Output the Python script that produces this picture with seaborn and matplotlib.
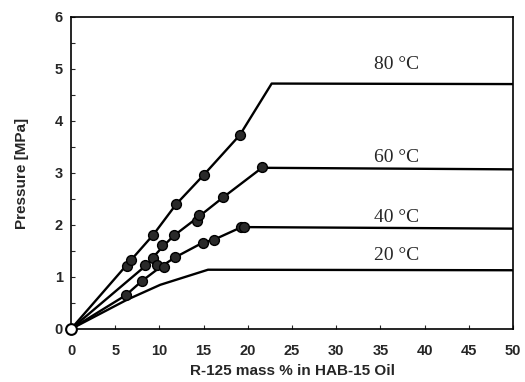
import matplotlib
matplotlib.use("Agg")
import matplotlib.pyplot as plt
import seaborn as sns
import pandas as pd
from matplotlib.ticker import MultipleLocator

# ---- data ----
temps = ["80 °C", "60 °C", "40 °C", "20 °C"]

pts80_x = [6.3, 6.8, 9.3, 11.9, 15.0, 19.1]
pts80_y = [1.22, 1.33, 1.81, 2.40, 2.96, 3.73]
pts60_x = [8.4, 9.3, 10.3, 11.6, 14.2, 14.5, 17.2, 21.6]
pts60_y = [1.23, 1.36, 1.61, 1.80, 2.08, 2.20, 2.53, 3.11]
pts40_x = [6.2, 8.0, 9.7, 10.5, 11.8, 14.9, 16.2, 19.2, 19.6]
pts40_y = [0.65, 0.92, 1.23, 1.19, 1.38, 1.66, 1.71, 1.97, 1.97]
origin_x = [0.0]
origin_y = [0.0]

line80_x = [0, 6.5, 9.3, 11.9, 15.0, 19.1, 22.7, 50]
line80_y = [0, 1.27, 1.81, 2.40, 2.96, 3.73, 4.72, 4.71]
line60_x = [0, 8.4, 10.3, 11.6, 14.3, 17.2, 21.6, 50]
line60_y = [0, 1.21, 1.57, 1.79, 2.14, 2.53, 3.10, 3.07]
line40_x = [0, 6.2, 8.0, 10.1, 11.8, 14.9, 16.2, 19.3, 50]
line40_y = [0, 0.65, 0.92, 1.19, 1.38, 1.66, 1.72, 1.96, 1.93]
line20_x = [0, 6.3, 10.1, 15.5, 50]
line20_y = [0, 0.56, 0.85, 1.14, 1.13]

label_x = [36.8, 36.8, 36.8, 36.8]
label_y = [5.08, 3.29, 2.15, 1.42]

xticks = [0, 5, 10, 15, 20, 25, 30, 35, 40, 45, 50]
yticks = [0, 1, 2, 3, 4, 5, 6]

sns.set_theme(style="ticks")
plt.rcParams["font.family"] = ["Liberation Sans", "DejaVu Sans"]

fig = plt.figure(figsize=(5.25, 3.82), dpi=100)
ax = fig.add_axes([71/525, 1-329/382, (513-71)/525, (329-17)/382])

for lx, ly in [(line80_x, line80_y), (line60_x, line60_y),
               (line40_x, line40_y), (line20_x, line20_y)]:
    df = pd.DataFrame({"x": lx, "y": ly})
    sns.lineplot(data=df, x="x", y="y", sort=False, color="black",
                 lw=1.7, ax=ax, estimator=None)

pts = pd.DataFrame({"x": pts80_x + pts60_x + pts40_x,
                    "y": pts80_y + pts60_y + pts40_y})
sns.scatterplot(data=pts, x="x", y="y", s=50, color="#2a2a2a",
                edgecolor="black", linewidth=1.0, ax=ax, zorder=5)
sns.scatterplot(x=origin_x, y=origin_y, s=60, color="white",
                edgecolor="black", linewidth=1.5, ax=ax, zorder=6, clip_on=False)

for t, tx, ty in zip(temps, label_x, label_y):
    ax.text(tx, ty, t, ha="center", va="center", fontsize=14,
            family=["Liberation Serif", "DejaVu Serif"])

ax.set_xlim(0, 50)
ax.set_ylim(0, 6)
ax.set_xticks(xticks)
ax.set_yticks(yticks)
ax.yaxis.set_minor_locator(MultipleLocator(0.5))
ax.tick_params(axis="both", which="both", direction="in", length=3,
               width=0.8, labelsize=10.5)
ax.tick_params(axis="x", pad=11)
ax.tick_params(axis="y", pad=6)
for lab in ax.get_xticklabels() + ax.get_yticklabels():
    lab.set_fontweight("bold")
for s in ax.spines.values():
    s.set_visible(True)
    s.set_linewidth(1.2)
    s.set_color("black")
ax.set_xlabel("R-125 mass % in HAB-15 Oil", fontsize=11, fontweight="bold", labelpad=4)
ax.set_ylabel("Pressure [MPa]", fontsize=11, fontweight="bold", labelpad=18)

fig.savefig("out.png", dpi=100)
